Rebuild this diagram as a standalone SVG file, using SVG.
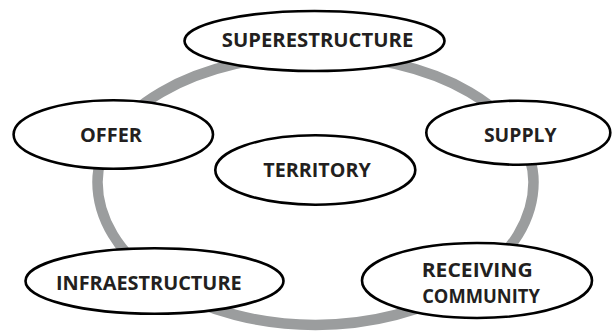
<svg xmlns="http://www.w3.org/2000/svg" width="613" height="333" viewBox="0 0 613 333">
  <style>
    .ring { fill: none; stroke: #9b9d9e; stroke-width: 10.5; }
    .node ellipse { fill: #ffffff; stroke: #000000; stroke-width: 2.6; }
    .node text { font-family: "Open Sans", "Liberation Sans", sans-serif; font-weight: 700; font-size: 20px; fill: #231f20; text-anchor: middle; }
  </style>
  <rect width="613" height="333" fill="#ffffff"/>

  <!-- connector: the grey loop linking the outer concepts -->
  <g id="connectors">
    <path class="ring" d="M 97.5 182 A 218 127 0 0 1 533.5 182 A 218 143 0 0 1 97.5 182 Z"/>
  </g>

  <g id="superestructure" class="node">
    <ellipse cx="314.5" cy="41" rx="130" ry="30"/>
    <text x="317.5" y="47.3" textLength="191.5" lengthAdjust="spacingAndGlyphs">SUPERESTRUCTURE</text>
  </g>

  <g id="offer" class="node">
    <ellipse cx="113.3" cy="134.5" rx="99.7" ry="34.3"/>
    <text x="111" y="142" textLength="62" lengthAdjust="spacingAndGlyphs">OFFER</text>
  </g>

  <g id="supply" class="node">
    <ellipse cx="518.3" cy="132.7" rx="92" ry="32"/>
    <text x="520.3" y="141.7" textLength="72.7" lengthAdjust="spacingAndGlyphs">SUPPLY</text>
  </g>

  <g id="territory" class="node">
    <ellipse cx="315.3" cy="170" rx="100" ry="34.7"/>
    <text x="317" y="177.3" textLength="107.4" lengthAdjust="spacingAndGlyphs">TERRITORY</text>
  </g>

  <g id="infraestructure" class="node">
    <ellipse cx="154.5" cy="281" rx="129" ry="32.7"/>
    <text x="148.8" y="290" textLength="185.7" lengthAdjust="spacingAndGlyphs">INFRAESTRUCTURE</text>
  </g>

  <g id="receiving-community" class="node">
    <ellipse cx="477" cy="280.5" rx="115" ry="37.5"/>
    <text x="477.2" y="276.7" textLength="111" lengthAdjust="spacingAndGlyphs">RECEIVING</text>
    <text x="481" y="303.3" textLength="117.7" lengthAdjust="spacingAndGlyphs">COMMUNITY</text>
  </g>
</svg>
